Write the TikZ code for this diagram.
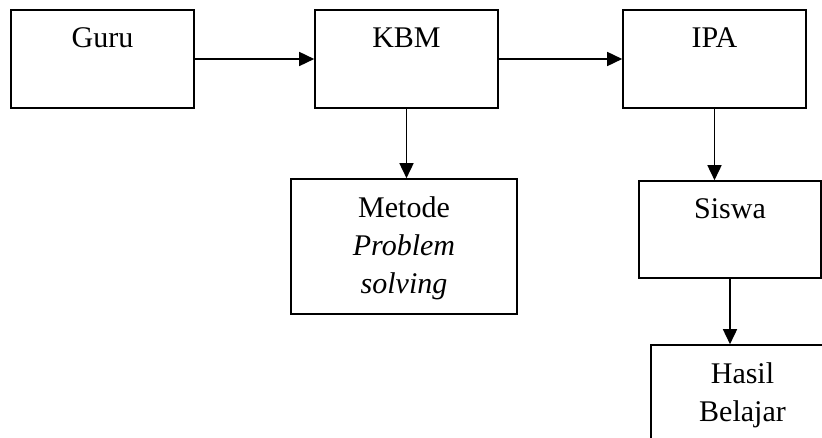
\documentclass[tikz,border=0pt]{standalone}
\usepackage{fontspec}
\setmainfont{Liberation Serif}
\usetikzlibrary{arrows.meta}
\begin{document}
\begin{tikzpicture}
[x = 1pt, y = -1pt,
 box/.style = {draw = black, line width = 1.6pt, minimum width = 183pt, minimum height = 98pt, inner sep = 0pt},
 txt/.style = {anchor = north, inner sep = 0pt, align = center, font = \fontsize{30}{38}\selectfont},
 link/.style = {line width = 1.6pt, -{Triangle[length = 15pt, width = 14pt]}}
 ]
\useasboundingbox (0,0) rectangle (822,438);
\node [box] (guru) at (102.5,59) {};
\node [box] (kbm) at (406.5,59) {};
\node [box] (ipa) at (714.5,59) {};
\node [box, minimum width = 226pt, minimum height = 135pt] (metode) at (404,246.5) {};
\node [box, minimum width = 182pt, minimum height = 97pt] (siswa) at (730,229.5) {};
\node [box, minimum height = 135pt] (hasil) at (742.5,412.5) {};
\node [txt] (gurutxt) at ([yshift=-18pt]guru.north) {Guru};
\node [txt] (kbmtxt) at ([yshift=-18pt]kbm.north) {KBM};
\node [txt] (ipatxt) at ([yshift=-18pt]ipa.north) {IPA};
\node [txt] (metodetxt) at ([yshift=-18pt]metode.north) {Metode\\\textit{Problem}\\\textit{solving}};
\node [txt] (siswatxt) at ([yshift=-18pt]siswa.north) {Siswa};
\node [txt] (hasiltxt) at ([yshift=-18pt]hasil.north) {Hasil\\Belajar};
\draw [link] (guru.east) -- (kbm.west);
\draw [link] (kbm.east) -- (ipa.west);
\draw [link] (kbm.south) -- (kbm.south |- metode.north);
\draw [link] (ipa.south) -- (ipa.south |- siswa.north);
\draw [link] (siswa.south) -- (siswa.south |- hasil.north);
\end{tikzpicture}
\end{document}
